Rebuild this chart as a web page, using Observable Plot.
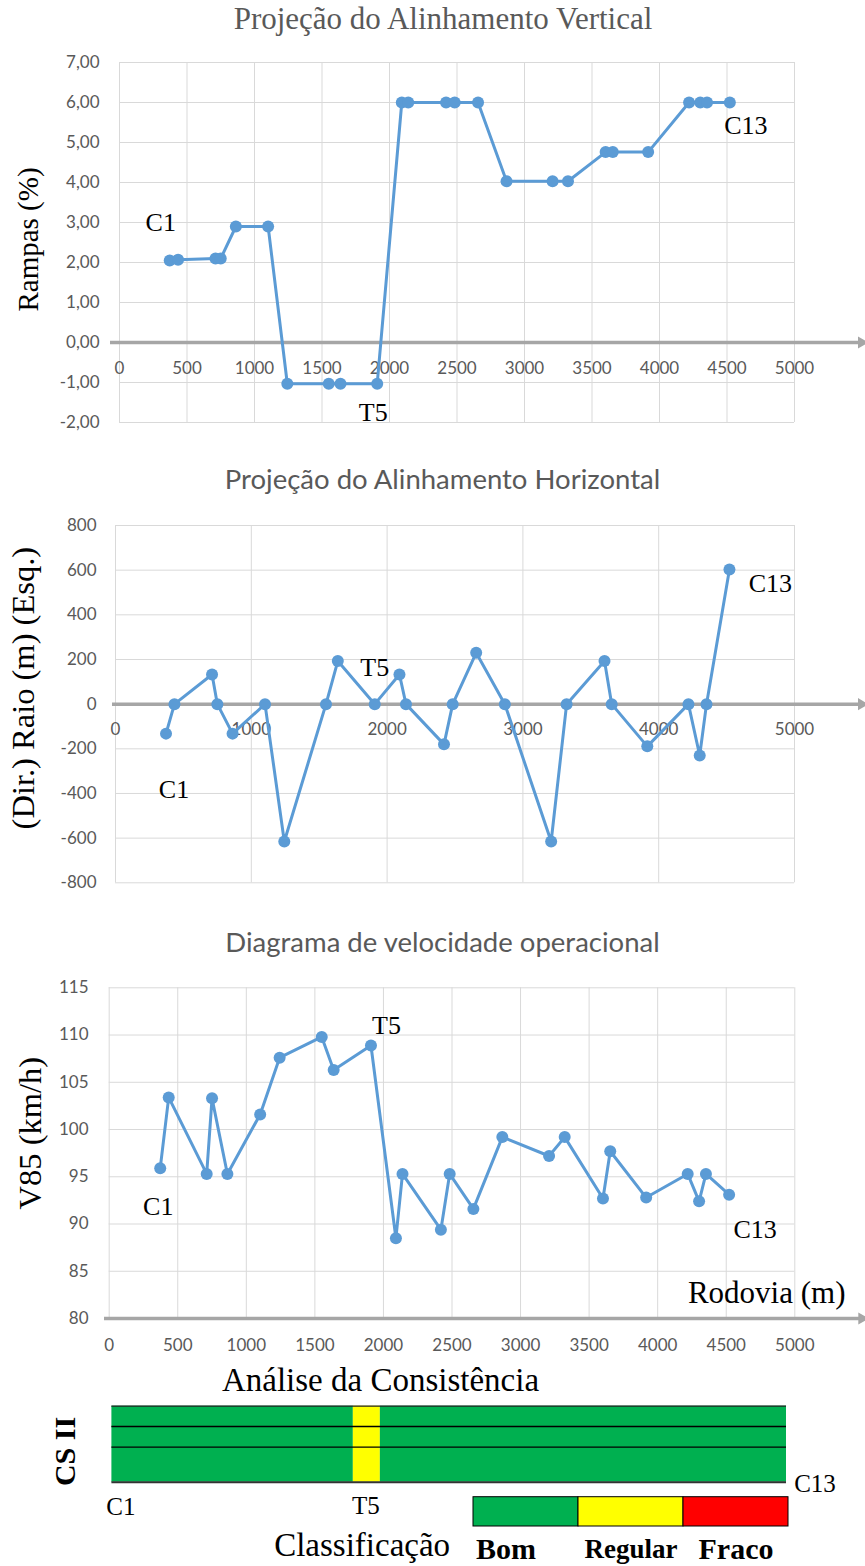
<!DOCTYPE html>
<html><head><meta charset="utf-8">
<script src="https://cdn.jsdelivr.net/npm/d3@7"></script>
<script src="https://cdn.jsdelivr.net/npm/@observablehq/plot@0.6"></script>
<style>
body{margin:0;background:#fff;}
#root{position:relative;width:865px;height:1566px;overflow:hidden;background:#fff;}
</style></head><body><div id="root"></div>
<script>
// ---- data ----
const stations = [372, 434, 711, 750, 862, 1101, 1243, 1550, 1637, 1909, 2091, 2139, 2419, 2483, 2656, 2867, 3208, 3322, 3601, 3654, 3916, 4219, 4302, 4352, 4521];
const grades = [2.05, 2.07, 2.10, 2.10, 2.90, 2.90, -1.03, -1.03, -1.03, -1.03, 6.00, 6.00, 6.00, 6.00, 6.00, 4.03, 4.03, 4.03, 4.76, 4.76, 4.76, 6.00, 6.00, 6.00, 6.00];
const radii = [-132, 0, 133, 0, -132, 0, -615, 0, 193, 0, 133, 0, -180, 0, 230, 0, -615, 0, 193, 0, -189, 0, -230, 0, 603];
const v85 = [95.9, 103.4, 95.3, 103.3, 95.3, 101.6, 107.6, 109.8, 106.3, 108.9, 88.5, 95.3, 89.4, 95.3, 91.6, 99.2, 97.2, 99.2, 92.7, 97.7, 92.8, 95.3, 92.4, 95.3, 93.1];
const pointNames = ["C1", "T5", "C13"];
const pointIndex = [0, 9, 24];

const xTicksVertical = [0, 500, 1000, 1500, 2000, 2500, 3000, 3500, 4000, 4500, 5000];
const yTicksVertical = [-2, -1, 0, 1, 2, 3, 4, 5, 6, 7];
const xTicksHorizontal = [0, 1000, 2000, 3000, 4000, 5000];
const yTicksHorizontal = [-800, -600, -400, -200, 0, 200, 400, 600, 800];
const xTicksSpeed = [0, 500, 1000, 1500, 2000, 2500, 3000, 3500, 4000, 4500, 5000];
const yTicksSpeed = [80, 85, 90, 95, 100, 105, 110, 115];

const segStart = [372, 1857, 2023];
const segEnd = [1857, 2023, 4521];
const segClass = ["Bom", "Regular", "Bom"];
const classes = ["Bom", "Regular", "Fraco"];

const titleVertical = "Projeção do Alinhamento Vertical";
const titleHorizontal = "Projeção do Alinhamento Horizontal";
const titleSpeed = "Diagrama de velocidade operacional";
const titleConsistency = "Análise da Consistência";

// ---- styles ----
const SERIF = "'Liberation Serif', 'Times New Roman', serif";
const SANS = "Lato, 'Open Sans', sans-serif";
const GRID = "#d9d9d9", TICK = "#595959", AXIS = "#a6a6a6", BLUE = "#5b9bd5";
const classColors = ["#00b050", "#ffff00", "#ff0000"];

const root = document.getElementById("root");
function place(el, top) {
  el.style.position = "absolute"; el.style.left = "0px"; el.style.top = top + "px";
  root.appendChild(el);
}
const rows = stations.map((s, i) => ({station: s, grade: grades[i], radius: radii[i], v85: v85[i]}));
const named = pointNames.map((n, k) => ({name: n, ...rows[pointIndex[k]]}));

function note(k, yKey, dx, dy) {
  return Plot.text([named[k]], {x: "station", y: yKey, text: "name", dx, dy, fontSize: 26, fontFamily: SERIF, fill: "#000"});
}
function axisArrow(base, left, right) {
  return [
    Plot.ruleY([base], {stroke: AXIS, strokeWidth: 3.5, insetLeft: -left, insetRight: -right}),
    Plot.dot([base], {y: d => d, frameAnchor: "right", dx: right + 1, symbol: "triangle", rotate: 90, r: 4.5, fill: AXIS, stroke: "none"})
  ];
}
function label(str, opts) {
  return Plot.text([str], {text: d => d, textAnchor: "middle", lineAnchor: "middle", ...opts});
}
const common = {width: 865, style: {background: "transparent", overflow: "visible"}};

// ---- chart 1: vertical alignment ----
place(Plot.plot({
  ...common, height: 440, marginLeft: 119, marginRight: 71, marginTop: 62, marginBottom: 18,
  x: {domain: [0, 5000], axis: null},
  y: {domain: [-2, 7]},
  marks: [
    Plot.gridX(xTicksVertical, {stroke: GRID, strokeOpacity: 1}),
    Plot.gridY(yTicksVertical, {stroke: GRID, strokeOpacity: 1}),
    Plot.axisY(yTicksVertical, {tickSize: 0, tickPadding: 20, tickFormat: d => d.toFixed(2).replace(".", ","), fontSize: 17, fontFamily: SANS, color: TICK, label: null}),
    ...axisArrow(0, 9, 66),
    Plot.text(xTicksVertical, {x: d => d, y: () => 0, dy: 26, text: d => String(d), fontSize: 17, fontFamily: SANS, fill: TICK}),
    Plot.line(rows, {x: "station", y: "grade", stroke: BLUE, strokeWidth: 3}),
    Plot.dot(rows, {x: "station", y: "grade", r: 6, fill: BLUE}),
    note(0, "grade", -9, -38), note(1, "grade", -4, 29), note(2, "grade", 16, 23),
    label(titleVertical, {frameAnchor: "top", dx: -14, dy: -43, fontSize: 31, fontFamily: SERIF, fill: TICK}),
    label("Rampas (%)", {frameAnchor: "left", rotate: -90, dx: -91, dy: -3, fontSize: 29, fontFamily: SERIF, fill: "#000"})
  ]
}), 0);

// ---- chart 2: horizontal alignment ----
place(Plot.plot({
  ...common, height: 450, marginLeft: 115, marginRight: 71, marginTop: 75, marginBottom: 17.7,
  x: {domain: [0, 5000], axis: null},
  y: {domain: [-800, 800]},
  marks: [
    Plot.gridX(xTicksHorizontal, {stroke: GRID, strokeOpacity: 1}),
    Plot.gridY(yTicksHorizontal, {stroke: GRID, strokeOpacity: 1}),
    Plot.axisY(yTicksHorizontal, {tickSize: 0, tickPadding: 19, tickFormat: d => String(d), fontSize: 17, fontFamily: SANS, color: TICK, label: null}),
    ...axisArrow(0, 3, 66),
    Plot.text(xTicksHorizontal, {x: d => d, y: () => 0, dy: 25, text: d => String(d), fontSize: 17, fontFamily: SANS, fill: TICK}),
    Plot.line(rows, {x: "station", y: "radius", stroke: BLUE, strokeWidth: 3}),
    Plot.dot(rows, {x: "station", y: "radius", r: 6, fill: BLUE}),
    note(0, "radius", 8, 56), note(1, "radius", 0, -36), note(2, "radius", 41, 14),
    label(titleHorizontal, {frameAnchor: "top", dx: -12.5, dy: -45, fontSize: 27.5, fontFamily: SANS, fill: TICK}),
    label("(Dir.) Raio (m) (Esq.)", {frameAnchor: "left", rotate: -90, dx: -92, dy: -16, fontSize: 32.5, fontFamily: SERIF, fill: "#000"})
  ]
}), 450);

// ---- chart 3: operating speed ----
place(Plot.plot({
  ...common, height: 430, marginLeft: 108.7, marginRight: 70.7, marginTop: 57.3, marginBottom: 42,
  x: {domain: [0, 5000], axis: null},
  y: {domain: [80, 115]},
  marks: [
    Plot.gridX(xTicksSpeed, {stroke: GRID, strokeOpacity: 1}),
    Plot.gridY(yTicksSpeed, {stroke: GRID, strokeOpacity: 1}),
    Plot.axisY(yTicksSpeed, {tickSize: 0, tickPadding: 20.7, tickFormat: d => String(d), fontSize: 17, fontFamily: SANS, color: TICK, label: null}),
    ...axisArrow(80, 4.7, 66),
    Plot.text(xTicksSpeed, {x: d => d, y: () => 80, dy: 27, text: d => String(d), fontSize: 17, fontFamily: SANS, fill: TICK}),
    Plot.line(rows, {x: "station", y: "v85", stroke: BLUE, strokeWidth: 3}),
    Plot.dot(rows, {x: "station", y: "v85", r: 6, fill: BLUE}),
    note(0, "v85", -2, 38), note(1, "v85", 15.5, -20), note(2, "v85", 26, 35),
    label(titleSpeed, {frameAnchor: "top", dx: -9.5, dy: -44.5, fontSize: 27.5, fontFamily: SANS, fill: TICK}),
    label("V85 (km/h)", {frameAnchor: "left", rotate: -90, dx: -78.7, dy: -20, fontSize: 32.5, fontFamily: SERIF, fill: "#000"}),
    label("Rodovia (m)", {frameAnchor: "bottom-right", textAnchor: "end", dx: 50.7, dy: -25, fontSize: 31, fontFamily: SERIF, fill: "#000"})
  ]
}), 930);

// ---- consistency bar ----
const segments = segStart.map((s, i) => ({start: s, end: segEnd[i], cls: segClass[i]}));
function barNote(k, dx, dy) {
  return Plot.text([named[k]], {x: "station", frameAnchor: "bottom", lineAnchor: "middle", text: "name", dx, dy, fontSize: 25, fontFamily: SERIF, fill: "#000"});
}
place(Plot.plot({
  ...common, height: 130, marginLeft: 111.4, marginRight: 79, marginTop: 15.7, marginBottom: 38.3,
  x: {domain: [stations[0], stations[stations.length - 1]], axis: null},
  y: {domain: [0, 1], reverse: true, axis: null},
  color: {domain: classes, range: classColors},
  marks: [
    Plot.rect(segments, {x1: "start", x2: "end", fill: "cls"}),
    Plot.ruleY([0.267, 0.539], {stroke: "#000", strokeWidth: 1.4}),
    Plot.ruleY([0], {stroke: "#222", strokeWidth: 1.2}),
    Plot.ruleY([1], {stroke: "#333", strokeWidth: 2}),
    barNote(0, 9, 25), barNote(1, 4, 24), barNote(2, 28.5, 1.3),
    label(titleConsistency, {frameAnchor: "top", dx: -68.7, dy: -25.7, fontSize: 33, fontFamily: SERIF, fill: "#000"}),
    label("CS II", {frameAnchor: "left", rotate: -90, dx: -46.4, dy: 7.3, fontSize: 30, fontWeight: "bold", fontFamily: SERIF, fill: "#000"})
  ]
}), 1390);

// ---- classification legend ----
const legendShift = [-20, 0, 0];
place(Plot.plot({
  ...common, height: 76, marginLeft: 471.6, marginRight: 76.3, marginTop: 6.7, marginBottom: 40,
  x: {type: "band", domain: classes, padding: 0, axis: null},
  color: {domain: classes, range: classColors},
  marks: [
    Plot.cell(classes, {x: d => d, fill: d => d, stroke: "#000", strokeWidth: 1, inset: 0}),
    ...classes.map((c, i) => Plot.text([c], {x: d => d, frameAnchor: "bottom", lineAnchor: "middle", dx: legendShift[i], dy: 23, text: d => d, fontSize: c === "Regular" ? 27 : 30, fontWeight: "bold", fontFamily: SERIF, fill: "#000"})),
    label("Classificação", {frameAnchor: "bottom-left", textAnchor: "end", dx: -22, dy: 19, fontSize: 33, fontFamily: SERIF, fill: "#000"})
  ]
}), 1490);
</script></body></html>
